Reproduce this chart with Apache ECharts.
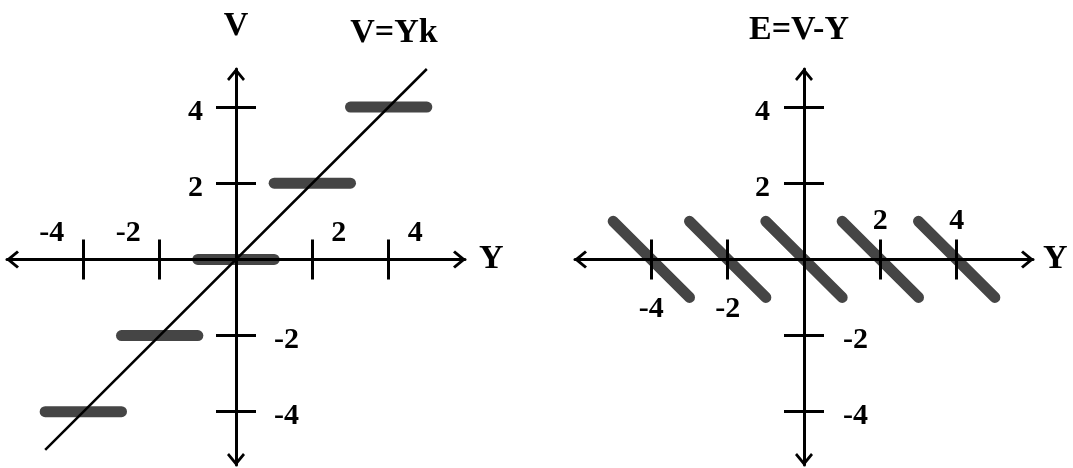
<!DOCTYPE html>
<html>
<head>
<meta charset="utf-8">
<script src="https://cdn.jsdelivr.net/npm/echarts@6/dist/echarts.min.js"></script>
<style>
  html, body { margin: 0; padding: 0; background: #fff; }
  #chart { width: 1073px; height: 468px; }
</style>
</head>
<body>
<div id="chart"></div>
<script>
// Uniform quantizer with step 2: output levels and the input interval each level covers
const levels   = [-4, -2, 0, 2, 4];
const stepFrom = [-5, -3, -1, 1, 3];
const stepTo   = [-3, -1, 1, 3, 5];
// Quantization error E = V - Y at the two ends of each interval
const errFrom = [1, 1, 1, 1, 1];
const errTo   = [-1, -1, -1, -1, -1];
// Ideal line V = Yk (k = 1)
const idealY = [-5, 5];
const idealV = [-5, 5];
// Tick positions / labels
const tickValues = [-4, -2, 2, 4];
const posTicks = [2, 4];
const negTicks = [-4, -2];
// Axis extents
const xRange = [-6, 6];
const yRange = [-5.4, 5];

const FONT = 'Liberation Serif';
const INK = '#000';
const BAR = '#454545';
const LABEL_SIZE = 30;
const TITLE_SIZE = 34;
// open chevron used as the arrow head at both ends of every axis
const ARROW = 'path://M9,0L18,11L16,13L9,4.6L2,13L0,11Z';
const ARROW_SIZE = [18, 13];

// plot boxes of the two panels
const GRID_W = 458, GRID_H = 396, GRID_TOP = 69;
const GRID_LEFT = [7, 575];

// where the zero lines fall inside a plot box, so the axes cross at the origin
const zeroFromLeft = GRID_W * (0 - xRange[0]) / (xRange[1] - xRange[0]);
const zeroFromTop = GRID_H * (yRange[1] - 0) / (yRange[1] - yRange[0]);
const shift = {
  top: -zeroFromTop,
  bottom: -(GRID_H - zeroFromTop),
  left: -zeroFromLeft,
  right: -(GRID_W - zeroFromLeft)
};

const labelFont = { fontFamily: FONT, fontWeight: 'bold', fontSize: LABEL_SIZE, color: INK };
const nameFont = { fontFamily: FONT, fontWeight: 'bold', fontSize: TITLE_SIZE, color: INK };

function axis(dimIsX, opts) {
  const range = dimIsX ? xRange : yRange;
  const base = {
    type: 'value',
    gridIndex: opts.grid,
    position: opts.position,
    offset: shift[opts.position],
    min: range[0],
    max: range[1],
    z: 5,
    silent: true,
    splitLine: { show: false },
    axisLine: {
      show: true,
      onZero: false,
      lineStyle: { color: INK, width: 3, opacity: opts.drawLine ? 1 : 0 },
      symbol: opts.drawLine ? [ARROW, ARROW] : 'none',
      symbolSize: ARROW_SIZE,
      symbolOffset: [ARROW_SIZE[1] / 2 - 1, -ARROW_SIZE[1] / 2 + 1]
    },
    axisTick: {
      show: true,
      customValues: tickValues,
      length: 20,
      lineStyle: { color: INK, width: 3 }
    },
    axisLabel: Object.assign({
      show: !!opts.labels,
      customValues: opts.labels || [],
      margin: opts.margin || 10,
      hideOverlap: false
    }, labelFont, opts.label || {})
  };
  if (opts.name) {
    base.name = opts.name;
    base.nameLocation = 'end';
    base.nameGap = opts.nameGap;
    base.nameMoveOverlap = false;
    base.nameTextStyle = Object.assign({}, nameFont, opts.nameStyle || {});
  }
  return base;
}

// vertical-axis numbers sit a little below their ticks
const yLabelNudge = {
  formatter: v => '{n|' + v + '}',
  rich: { n: Object.assign({ padding: [10, 0, 0, 0] }, labelFont) }
};

const xAxes = [
  // left panel: labels above the axis, pushed outward from their ticks
  axis(true, {
    grid: 0, position: 'top', drawLine: true, name: 'Y', nameGap: 14,
    labels: tickValues, margin: 11,
    label: {
      formatter: v => (v < 0 ? '{l|' + v + '}' : '{r|' + v + '}'),
      rich: {
        l: Object.assign({ padding: [0, 63, 0, 0] }, labelFont),
        r: Object.assign({ padding: [0, 0, 0, 53] }, labelFont)
      }
    }
  }),
  axis(true, { grid: 0, position: 'bottom', drawLine: false }),
  // right panel: positive labels above, negative labels below
  axis(true, {
    grid: 1, position: 'top', drawLine: true, name: 'Y', nameGap: 10,
    labels: posTicks, margin: 23
  }),
  axis(true, { grid: 1, position: 'bottom', drawLine: false, labels: negTicks, margin: 35 })
];

const yAxes = [
  axis(false, {
    grid: 0, position: 'left', drawLine: true, name: 'V', nameGap: 26,
    labels: posTicks, margin: 33, label: yLabelNudge
  }),
  axis(false, { grid: 0, position: 'right', drawLine: false, labels: negTicks, margin: 38, label: yLabelNudge }),
  axis(false, {
    grid: 1, position: 'left', drawLine: true, name: 'E=V-Y', nameGap: 22,
    nameStyle: { padding: [0, 10, 0, 0] },
    labels: posTicks, margin: 34, label: yLabelNudge
  }),
  axis(false, { grid: 1, position: 'right', drawLine: false, labels: negTicks, margin: 39, label: yLabelNudge })
];

const segStyle = { color: BAR, width: 11, cap: 'round' };

// staircase V = quantized Y
const stairSeries = levels.map((lv, i) => ({
  type: 'line',
  xAxisIndex: 0,
  yAxisIndex: 0,
  data: [[stepFrom[i], lv], [stepTo[i], lv]],
  symbol: 'none',
  lineStyle: segStyle,
  z: 2,
  silent: true
}));

// sawtooth error E = V - Y
const errorSeries = levels.map((lv, i) => ({
  type: 'line',
  xAxisIndex: 2,
  yAxisIndex: 2,
  data: [[stepFrom[i], errFrom[i]], [stepTo[i], errTo[i]]],
  symbol: 'none',
  lineStyle: segStyle,
  z: 2,
  silent: true
}));

const idealSeries = {
  type: 'line',
  xAxisIndex: 0,
  yAxisIndex: 0,
  data: [[idealY[0], idealV[0]], [idealY[1], idealV[1]]],
  symbol: 'none',
  lineStyle: { color: INK, width: 2.5 },
  z: 3,
  silent: true
};

const chart = echarts.init(document.getElementById('chart'), null, { renderer: 'canvas' });
chart.setOption({
  backgroundColor: '#fff',
  animation: false,
  grid: GRID_LEFT.map(left => ({
    left: left, top: GRID_TOP, width: GRID_W, height: GRID_H,
    containLabel: false, outerBoundsMode: 'none'
  })),
  xAxis: xAxes,
  yAxis: yAxes,
  graphic: [{
    type: 'text',
    x: 394,
    y: 33,
    style: {
      text: 'V=Yk',
      font: 'bold ' + TITLE_SIZE + 'px "' + FONT + '"',
      fill: INK,
      align: 'center',
      verticalAlign: 'middle'
    }
  }],
  series: stairSeries.concat(errorSeries, [idealSeries])
});
</script>
</body>
</html>
